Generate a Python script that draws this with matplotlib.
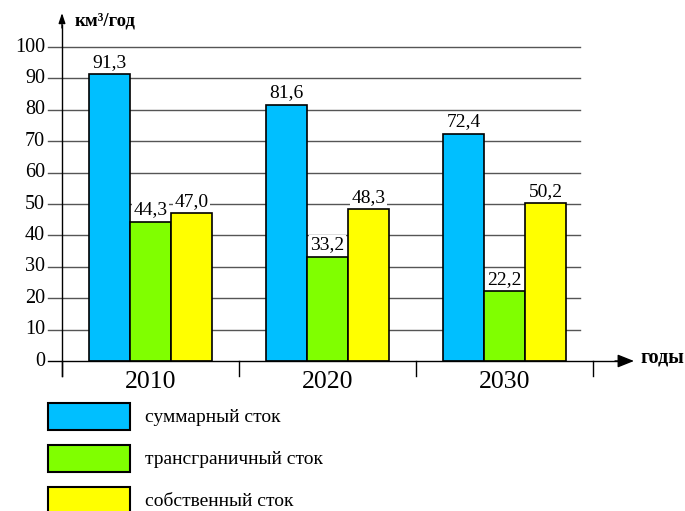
import matplotlib.pyplot as plt
from matplotlib.patches import Rectangle
import numpy as np

years = ["2010", "2020", "2030"]
total = [91.3, 81.6, 72.4]
transb = [44.3, 33.2, 22.2]
own = [47.0, 48.3, 50.2]
series_names = ["суммарный сток", "трансграничный сток", "собственный сток"]
colors = ["#00BFFF", "#80FF00", "#FFFF00"]
yticks = list(range(0, 101, 10))

plt.rcParams["font.family"] = ["Liberation Serif", "DejaVu Serif"]

W, H = 685, 511
GX, GW = 62, 177     # pixel of left axis, pixel width of one group
Y0, YS = 361, 3.14   # pixel of zero, pixels per unit


def px(p):
    return -0.5 + (p - GX) / GW


def py(p):
    return (Y0 - p) / YS


fig = plt.figure(figsize=(W / 100, H / 100), dpi=100)
ax = fig.add_axes([0, 0, 1, 1])
ax.set_xlim(px(0), px(W))
ax.set_ylim(py(H), py(0))
ax.axis("off")

# grid + y tick labels
for t in yticks:
    if t > 0:
        ax.plot([px(48), px(580)], [t, t], color="#555555", lw=1.0, zorder=1)
    ax.text(px(45), t, str(t), ha="right", va="center", fontsize=14.5)

# bars
x = np.arange(len(years))
bw = 41 / GW
for i, vals in enumerate([total, transb, own]):
    pos = x + (i - 1) * bw
    ax.bar(pos, vals, width=bw, color=colors[i], edgecolor="black", lw=1.2, zorder=3)
    for xp, v in zip(pos, vals):
        ax.annotate(f"{v:.1f}".replace(".", ","), (xp, v), xytext=(0, 2.5),
                    textcoords="offset points", ha="center", va="bottom",
                    fontsize=14, zorder=4,
                    bbox=dict(boxstyle="square,pad=0.05", fc="white", ec="none"))

# axes lines with arrows
ax.plot([px(48), px(622)], [0, 0], color="black", lw=1.0, zorder=5)
ax.annotate("", xy=(px(634), 0), xytext=(px(615), 0),
            arrowprops=dict(arrowstyle="-|>,head_length=1.0,head_width=0.4",
                            color="black", lw=1.0, shrinkA=0, shrinkB=0))
ax.plot([px(GX), px(GX)], [py(376), py(25)], color="black", lw=1.0, zorder=5)
ax.annotate("", xy=(px(GX), py(13)), xytext=(px(GX), py(28)),
            arrowprops=dict(arrowstyle="-|>,head_length=0.6,head_width=0.2",
                            color="black", lw=1.0, shrinkA=0, shrinkB=0))
ax.text(px(75), py(21), "км³/год", ha="left", va="center",
        fontsize=13.5, fontweight="bold")
ax.text(px(640), 1, "годы", ha="left", va="center", fontsize=14.5, fontweight="bold")

# group separator ticks and year labels
for k in range(len(years) + 1):
    ax.plot([k - 0.5, k - 0.5], [0, py(376)], color="black", lw=1.0)
for k, yr in enumerate(years):
    ax.text(k, py(382), yr, ha="center", va="center", fontsize=18.5)

# legend
for i, name in enumerate(series_names):
    top = 403 + i * 42
    ax.add_patch(Rectangle((px(48), py(top + 27)), px(130) - px(48), 27 / YS,
                           fc=colors[i], ec="black", lw=1.5))
    ax.text(px(145), py(top + 14), name, ha="left", va="center", fontsize=14)

fig.savefig("out.png", dpi=100)
